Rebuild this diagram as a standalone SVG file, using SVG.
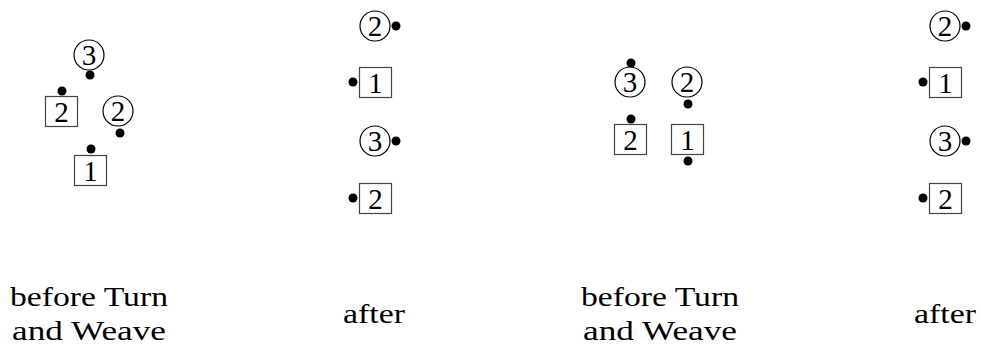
<svg xmlns="http://www.w3.org/2000/svg" width="981" height="351" viewBox="0 0 981 351">
<style>
.c{fill:none;stroke:#000;stroke-width:1.2}
.b{fill:none;stroke:#444;stroke-width:1.2}
.d{fill:#000}
</style>
<rect width="981" height="351" fill="#fff"/>
<g id="connectors"/>
<g font-family="Liberation Serif, DejaVu Serif, serif" font-size="29" text-anchor="middle" fill="#000">
<!-- panel 1 -->
<g id="p1-c3"><circle class="c" cx="89" cy="55" r="15"/><text x="89" y="65">3</text><circle class="d" cx="90" cy="75" r="4.5"/></g>
<g id="p1-b2"><rect class="b" x="45.5" y="96.5" width="32" height="30"/><text x="61.5" y="121.5">2</text><circle class="d" cx="62" cy="91" r="4.5"/></g>
<g id="p1-c2"><circle class="c" cx="118" cy="111" r="15"/><text x="118" y="121">2</text><circle class="d" cx="120" cy="133" r="4.5"/></g>
<g id="p1-b1"><rect class="b" x="74.5" y="155.5" width="32" height="30"/><text x="90.5" y="180.5">1</text><circle class="d" cx="91" cy="149" r="4.5"/></g>
<!-- panel 2 -->
<g id="p2-c2"><circle class="c" cx="375" cy="26" r="15"/><text x="375" y="36">2</text><circle class="d" cx="396" cy="26" r="4.5"/></g>
<g id="p2-b1"><rect class="b" x="359.5" y="67.5" width="32" height="30"/><text x="375.5" y="92.5">1</text><circle class="d" cx="353" cy="82" r="4.5"/></g>
<g id="p2-c3"><circle class="c" cx="375" cy="141" r="15"/><text x="375" y="151">3</text><circle class="d" cx="396" cy="141" r="4.5"/></g>
<g id="p2-b2"><rect class="b" x="359.5" y="183.5" width="32" height="30"/><text x="375.5" y="208.5">2</text><circle class="d" cx="353" cy="198" r="4.5"/></g>
<!-- panel 3 -->
<g id="p3-c3"><circle class="c" cx="630" cy="82" r="15"/><text x="630" y="92">3</text><circle class="d" cx="631" cy="63" r="4.5"/></g>
<g id="p3-c2"><circle class="c" cx="687" cy="82" r="15"/><text x="687" y="92">2</text><circle class="d" cx="688" cy="104" r="4.5"/></g>
<g id="p3-b2"><rect class="b" x="614.5" y="124.5" width="32" height="30"/><text x="630.5" y="149.5">2</text><circle class="d" cx="631" cy="119" r="4.5"/></g>
<g id="p3-b1"><rect class="b" x="671.5" y="124.5" width="32" height="30"/><text x="687.5" y="149.5">1</text><circle class="d" cx="688" cy="161" r="4.5"/></g>
<!-- panel 4 -->
<g id="p4-c2"><circle class="c" cx="945" cy="26" r="15"/><text x="945" y="36">2</text><circle class="d" cx="966" cy="26" r="4.5"/></g>
<g id="p4-b1"><rect class="b" x="929.5" y="67.5" width="32" height="30"/><text x="945.5" y="92.5">1</text><circle class="d" cx="923" cy="82" r="4.5"/></g>
<g id="p4-c3"><circle class="c" cx="945" cy="141" r="15"/><text x="945" y="151">3</text><circle class="d" cx="966" cy="141" r="4.5"/></g>
<g id="p4-b2"><rect class="b" x="929.5" y="183.5" width="32" height="30"/><text x="945.5" y="208.5">2</text><circle class="d" cx="923" cy="198" r="4.5"/></g>
<!-- labels -->
<g id="labels" font-size="28">
<text x="89" y="306" textLength="158" lengthAdjust="spacingAndGlyphs">before Turn</text>
<text x="89" y="340" textLength="154" lengthAdjust="spacingAndGlyphs">and Weave</text>
<text x="374" y="323" textLength="62" lengthAdjust="spacingAndGlyphs">after</text>
<text x="660" y="306" textLength="158" lengthAdjust="spacingAndGlyphs">before Turn</text>
<text x="660" y="340" textLength="154" lengthAdjust="spacingAndGlyphs">and Weave</text>
<text x="945" y="323" textLength="62" lengthAdjust="spacingAndGlyphs">after</text>
</g>
</g>
</svg>
